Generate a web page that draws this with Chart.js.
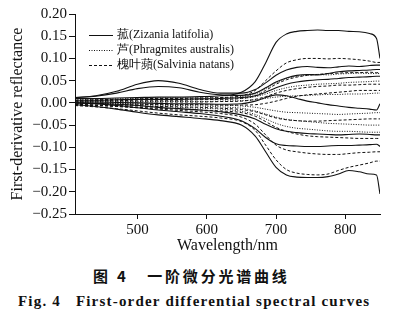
<!DOCTYPE html>
<html>
<head>
<meta charset="utf-8">
<script src="https://cdn.jsdelivr.net/npm/chart.js@4.4.1/dist/chart.umd.min.js"></script>
<style>
  body { margin: 0; background: #fff; width: 394px; height: 324px; position: relative; overflow: hidden; }
  #chartBox { position: absolute; left: 0; top: 0; width: 394px; height: 258px; }
  .cap-cn { position: absolute; left: 93px; top: 265px; font-family: 'Noto Sans CJK SC', sans-serif; font-weight: 700; font-size: 15px; color: #111; white-space: pre; letter-spacing: 2.8px; }
  .cap-en { position: absolute; left: 18px; top: 293px; font-family: 'Liberation Serif', serif; font-weight: 700; font-size: 15px; color: #111; white-space: pre; letter-spacing: 1.2px; }
</style>
</head>
<body>
<div id="chartBox"><canvas id="chartSpectra" width="394" height="258"></canvas></div>
<div class="cap-cn">图 4   一阶微分光谱曲线</div>
<div class="cap-en">Fig. 4   First-order differential spectral curves</div>

<script>
// ============= DATA =============
const WAVELENGTHS = [410, 440, 470, 500, 530, 560, 590, 620, 650, 670, 685, 700, 715, 730, 745, 760, 775, 790, 805, 820, 835, 845, 850];
const X_TICKS = [500, 600, 700, 800];
const Y_TICKS = [0.20, 0.15, 0.10, 0.05, 0.00, -0.05, -0.10, -0.15, -0.20, -0.25];
const LEGEND_LABELS = ['菰(Zizania latifolia)', '芦(Phragmites australis)', '槐叶蘋(Salvinia natans)'];

// 菰 — solid lines
const ZIZANIA = [
  [0.010, 0.010, 0.011, 0.012, 0.013, 0.013, 0.014, 0.016, 0.024, 0.048, 0.090, 0.136, 0.155, 0.161, 0.163, 0.164, 0.163, 0.163, 0.161, 0.160, 0.156, 0.145, 0.100],
  [0.012, 0.016, 0.026, 0.042, 0.050, 0.044, 0.030, 0.022, 0.022, 0.030, 0.045, 0.062, 0.074, 0.080, 0.082, 0.080, 0.079, 0.081, 0.083, 0.082, 0.084, 0.085, 0.085],
  [0.012, 0.015, 0.022, 0.032, 0.037, 0.034, 0.024, 0.018, 0.017, 0.022, 0.034, 0.047, 0.056, 0.062, 0.064, 0.063, 0.066, 0.070, 0.072, 0.073, 0.074, 0.075, 0.075],
  [0.006, 0.006, 0.007, 0.008, 0.008, 0.008, 0.009, 0.010, 0.012, 0.016, 0.024, 0.034, 0.042, 0.047, 0.050, 0.052, 0.053, 0.055, 0.057, 0.058, 0.059, 0.060, 0.060],
  [0.002, 0.002, 0.001, 0.000, -0.001, -0.002, -0.002, -0.003, -0.002, 0.004, 0.012, 0.018, 0.016, 0.010, 0.004, 0.000, -0.004, -0.007, -0.010, -0.012, -0.014, -0.016, -0.002],
  [0.000, -0.002, -0.006, -0.011, -0.016, -0.020, -0.024, -0.030, -0.040, -0.058, -0.078, -0.092, -0.096, -0.097, -0.098, -0.098, -0.097, -0.096, -0.096, -0.095, -0.094, -0.093, -0.098],
  [-0.004, -0.008, -0.014, -0.021, -0.027, -0.031, -0.035, -0.040, -0.050, -0.075, -0.110, -0.145, -0.162, -0.167, -0.168, -0.168, -0.166, -0.160, -0.152, -0.155, -0.160, -0.162, -0.205],
  [0.000, -0.001, -0.003, -0.006, -0.010, -0.013, -0.016, -0.020, -0.027, -0.036, -0.048, -0.058, -0.064, -0.067, -0.069, -0.070, -0.071, -0.072, -0.071, -0.070, -0.071, -0.072, -0.072]
];

// 芦 — dotted lines
const PHRAGMITES = [
  [0.008, 0.008, 0.009, 0.010, 0.011, 0.011, 0.011, 0.012, 0.014, 0.020, 0.032, 0.045, 0.055, 0.060, 0.062, 0.064, 0.063, 0.065, 0.066, 0.067, 0.066, 0.066, 0.066],
  [0.005, 0.005, 0.006, 0.007, 0.007, 0.007, 0.008, 0.008, 0.010, 0.014, 0.020, 0.028, 0.034, 0.038, 0.040, 0.042, 0.043, 0.044, 0.046, 0.047, 0.048, 0.049, 0.049],
  [0.003, 0.003, 0.003, 0.003, 0.003, 0.003, 0.003, 0.004, 0.005, 0.007, 0.010, 0.013, 0.015, 0.016, 0.017, 0.018, 0.019, 0.019, 0.020, 0.020, 0.021, 0.022, 0.022],
  [0.001, 0.000, -0.001, -0.002, -0.003, -0.004, -0.004, -0.005, -0.007, -0.010, -0.014, -0.018, -0.021, -0.022, -0.023, -0.024, -0.025, -0.026, -0.025, -0.024, -0.023, -0.022, -0.022],
  [-0.001, -0.002, -0.004, -0.006, -0.008, -0.010, -0.012, -0.014, -0.019, -0.026, -0.036, -0.046, -0.053, -0.057, -0.059, -0.061, -0.063, -0.064, -0.064, -0.065, -0.066, -0.066, -0.066],
  [0.000, -0.001, -0.002, -0.003, -0.005, -0.006, -0.007, -0.009, -0.012, -0.018, -0.025, -0.032, -0.037, -0.040, -0.042, -0.044, -0.046, -0.047, -0.048, -0.049, -0.050, -0.050, -0.050]
];

// 槐叶蘋 — dashed lines
const SALVINIA = [
  [0.006, 0.007, 0.008, 0.009, 0.010, 0.010, 0.011, 0.012, 0.016, 0.028, 0.050, 0.072, 0.090, 0.097, 0.100, 0.100, 0.099, 0.100, 0.099, 0.097, 0.094, 0.091, 0.091],
  [0.004, 0.005, 0.005, 0.006, 0.006, 0.006, 0.007, 0.008, 0.010, 0.016, 0.028, 0.042, 0.052, 0.058, 0.062, 0.064, 0.066, 0.067, 0.068, 0.068, 0.069, 0.068, 0.068],
  [0.002, 0.002, 0.002, 0.002, 0.002, 0.002, 0.002, 0.003, 0.004, 0.008, 0.014, 0.022, 0.028, 0.032, 0.035, 0.037, 0.038, 0.040, 0.040, 0.041, 0.042, 0.042, 0.042],
  [-0.002, -0.002, -0.003, -0.003, -0.004, -0.004, -0.004, -0.005, -0.005, -0.004, -0.001, 0.004, 0.010, 0.015, 0.018, 0.020, 0.022, 0.024, 0.026, 0.028, 0.028, 0.028, 0.028],
  [-0.004, -0.005, -0.006, -0.007, -0.008, -0.009, -0.010, -0.012, -0.015, -0.020, -0.027, -0.034, -0.038, -0.040, -0.041, -0.041, -0.040, -0.039, -0.038, -0.037, -0.036, -0.036, -0.036],
  [-0.003, -0.005, -0.008, -0.011, -0.014, -0.017, -0.020, -0.024, -0.032, -0.048, -0.072, -0.095, -0.106, -0.110, -0.113, -0.115, -0.116, -0.116, -0.114, -0.112, -0.111, -0.110, -0.110],
  [-0.006, -0.009, -0.013, -0.018, -0.023, -0.027, -0.030, -0.034, -0.042, -0.062, -0.095, -0.128, -0.150, -0.158, -0.161, -0.162, -0.160, -0.152, -0.145, -0.140, -0.135, -0.131, -0.131],
  [-0.005, -0.006, -0.008, -0.010, -0.012, -0.014, -0.016, -0.018, -0.022, -0.030, -0.042, -0.055, -0.064, -0.070, -0.074, -0.076, -0.077, -0.078, -0.079, -0.080, -0.080, -0.080, -0.080]
];

// ============= STYLES =============
const INK = '#111111';
const SERIF = "'Liberation Serif', 'Times New Roman', serif";
const GROUP_DASH = [[], [1, 1.5], [3, 2]];
const GROUPS = [ZIZANIA, PHRAGMITES, SALVINIA];

function toPoints(values) {
  return values.map(function(v, i) { return { x: WAVELENGTHS[i], y: v }; });
}

const datasets = [];
GROUPS.forEach(function(group, g) {
  group.forEach(function(values) {
    datasets.push({
      data: toPoints(values),
      borderColor: INK,
      borderWidth: g === 0 ? 1.1 : 1,
      borderDash: GROUP_DASH[g],
      pointRadius: 0,
      fill: false,
      cubicInterpolationMode: 'monotone'
    });
  });
});

function fmtY(v) {
  return v.toFixed(2).replace('-', '\u2212');
}

// Legend drawn inside the plot, top left
const insideLegend = {
  id: 'insideLegend',
  afterDatasetsDraw(chart) {
    const ctx = chart.ctx;
    const area = chart.chartArea;
    ctx.save();
    ctx.font = '12px ' + SERIF;
    ctx.textBaseline = 'middle';
    LEGEND_LABELS.forEach(function(label, i) {
      const y = area.top + 21 + i * 15;
      const x0 = area.left + 14;
      ctx.strokeStyle = INK;
      ctx.lineWidth = 1;
      ctx.setLineDash(GROUP_DASH[i]);
      ctx.beginPath();
      ctx.moveTo(x0, y + 0.5);
      ctx.lineTo(x0 + 24, y + 0.5);
      ctx.stroke();
      ctx.setLineDash([]);
      ctx.fillStyle = INK;
      ctx.fillText(label, x0 + 28, y);
    });
    ctx.restore();
  }
};

// ============= CHART =============
new Chart(document.getElementById('chartSpectra'), {
  type: 'line',
  data: { datasets: datasets },
  plugins: [insideLegend],
  options: {
    responsive: false,
    animation: false,
    devicePixelRatio: 1,
    layout: { padding: { top: 14, right: 14, bottom: 0, left: 0 } },
    plugins: { legend: { display: false }, tooltip: { enabled: false } },
    scales: {
      x: {
        type: 'linear',
        min: 410,
        max: 850,
        afterBuildTicks: function(scale) { scale.ticks = X_TICKS.map(function(v) { return { value: v }; }); },
        afterFit: function(scale) { scale.height = 44; },
        grid: { drawOnChartArea: false, drawTicks: true, tickLength: 5, color: INK, lineWidth: 1 },
        border: { display: true, color: INK, width: 1 },
        ticks: { color: INK, font: { family: SERIF, size: 15 }, padding: 2, maxRotation: 0 },
        title: { display: true, text: 'Wavelength/nm', color: INK, font: { family: SERIF, size: 16 }, padding: { top: 0, bottom: 3 } }
      },
      y: {
        type: 'linear',
        min: -0.25,
        max: 0.20,
        afterBuildTicks: function(scale) { scale.ticks = Y_TICKS.map(function(v) { return { value: v }; }); },
        afterFit: function(scale) { scale.width = 75; },
        grid: { drawOnChartArea: false, drawTicks: true, tickLength: 6, color: INK, lineWidth: 1 },
        border: { display: true, color: INK, width: 1 },
        ticks: { color: INK, font: { family: SERIF, size: 15 }, padding: 2, callback: function(v) { return fmtY(v); } },
        title: { display: true, text: 'First-derivative reflectance', color: INK, font: { family: SERIF, size: 16 }, padding: { top: 8, bottom: 0 } }
      }
    }
  }
});
</script>
</body>
</html>
